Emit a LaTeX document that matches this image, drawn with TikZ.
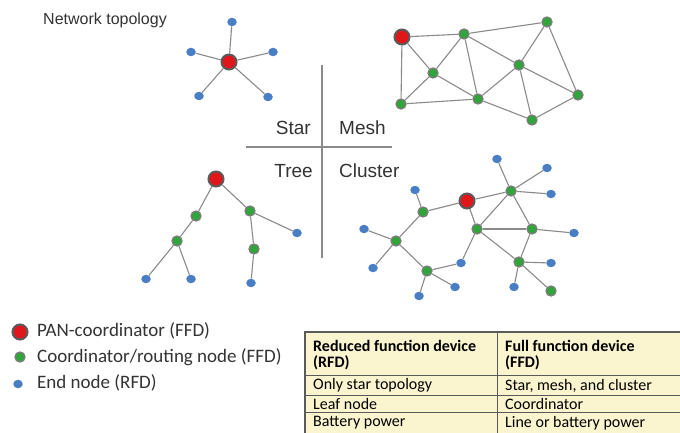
\documentclass[tikz,border=0pt]{standalone}
\usepackage{fontspec}
\usetikzlibrary{shapes.geometric}
\setmainfont{Liberation Sans}
\newfontfamily\legfont{Carlito}
\definecolor{edgegray}{HTML}{8A8A8A}
\definecolor{panred}{HTML}{E0161B}
\definecolor{ringgray}{HTML}{5A5A5A}
\definecolor{routegreen}{HTML}{2FA53A}
\definecolor{endblue}{HTML}{4A7EC4}
\definecolor{tabfill}{HTML}{FBF5CF}
\definecolor{txt}{HTML}{333333}
\begin{document}
\begin{tikzpicture}[x=1pt,y=-1pt,
  pan/.style={circle,fill=panred,draw=ringgray,line width=2pt,minimum size=15pt,inner sep=0pt},
  rout/.style={circle,fill=routegreen,draw=ringgray!80,line width=1.3pt,minimum size=10pt,inner sep=0pt},
  endn/.style={ellipse,fill=endblue,minimum width=9.5pt,minimum height=8.5pt,inner sep=0pt},
  lnk/.style={draw=edgegray,line width=1.1pt},
  lbl/.style={font=\fontsize{19}{21}\selectfont,text=txt,inner sep=0pt},
  leg/.style={font=\legfont\fontsize{19}{21}\selectfont,text=txt,anchor=west,inner sep=0pt},
  cell/.style={font=\legfont\fontsize{16}{16}\selectfont,text=black,anchor=west,inner sep=0pt,align=left},
  hcell/.style={cell,font=\legfont\bfseries\fontsize{16}{16}\selectfont}
]
\useasboundingbox (0,0) rectangle (680,433);
\fill[white] (0,0) rectangle (680,433);

\node[font=\fontsize{16}{18}\selectfont,text=txt,anchor=west,inner sep=0pt] (title) at (43,20) {Network topology};

% cross
\coordinate (vt) at (322,65);
\coordinate (vb) at (322,258);
\coordinate (hl) at (246,147);
\coordinate (hr) at (392,147);
\draw[edgegray,line width=1.2pt] (vt) -- (vb);
\draw[edgegray,line width=1.2pt] (hl) -- (hr);
\node[lbl,anchor=east] (lstar) at (311,128) {Star};
\node[lbl,anchor=west] (lmesh) at (339,128) {Mesh};
\node[lbl,anchor=east] (ltree) at (313,171) {Tree};
\node[lbl,anchor=west] (lclus) at (339,171) {Cluster};

% Star
\node[pan] (s0) at (229,62) {};
\node[endn] (s1) at (232,22) {};
\node[endn] (s2) at (191,52) {};
\node[endn] (s3) at (273,52) {};
\node[endn] (s4) at (199,96) {};
\node[endn] (s5) at (268,97) {};
\foreach \n in {s1,s2,s3,s4,s5} \draw[lnk] (s0) -- (\n);

% Mesh
\node[pan] (m0) at (402,37) {};
\node[rout] (mA) at (464,34) {};
\node[rout] (mB) at (547,22) {};
\node[rout] (mC) at (433,73) {};
\node[rout] (mD) at (519,65) {};
\node[rout] (mE) at (401,104) {};
\node[rout] (mF) at (478,99) {};
\node[rout] (mG) at (578,95) {};
\node[rout] (mH) at (532,120) {};
\foreach \a/\b in {m0/mA,mA/mB,m0/mC,m0/mE,mA/mC,mA/mF,mA/mD,mB/mD,mB/mG,mC/mE,mC/mF,mE/mF,mF/mD,mD/mG,mD/mH,mF/mH,mH/mG}
  \draw[lnk] (\a) -- (\b);

% Tree
\node[pan] (t0) at (216,179) {};
\node[rout] (t1) at (196,216) {};
\node[rout] (t2) at (177,241) {};
\node[endn] (t3) at (146,279) {};
\node[endn] (t4) at (191,279) {};
\node[rout] (t5) at (250,211) {};
\node[endn] (t6) at (297,233) {};
\node[rout] (t7) at (254,249) {};
\node[endn] (t8) at (251,283) {};
\foreach \a/\b in {t0/t1,t1/t2,t2/t3,t2/t4,t0/t5,t5/t6,t5/t7,t7/t8}
  \draw[lnk] (\a) -- (\b);

% Cluster
\node[pan] (c0) at (467,201) {};
\node[rout] (gA) at (511,191) {};
\node[endn] (bA1) at (497,159) {};
\node[endn] (bA2) at (547,168) {};
\node[endn] (bA3) at (551,194) {};
\node[rout] (gB) at (477,229) {};
\node[rout] (gC) at (532,229) {};
\node[endn] (bC) at (574,233) {};
\node[rout] (gD) at (519,262) {};
\node[endn] (bD1) at (551,263) {};
\node[endn] (bD2) at (514,287) {};
\node[rout] (gD2) at (551,291) {};
\node[endn] (bB) at (461,263) {};
\node[rout] (gE) at (423,212) {};
\node[endn] (bE) at (415,190) {};
\node[rout] (gF) at (396,241) {};
\node[endn] (bF1) at (364,229) {};
\node[endn] (bF2) at (373,268) {};
\node[rout] (gG) at (427,271) {};
\node[endn] (bG1) at (455,287) {};
\node[endn] (bG2) at (419,296) {};
\foreach \a/\b in {c0/gA,c0/gB,c0/gE,gA/bA1,gA/bA2,gA/bA3,gA/gB,gA/gC,gB/gC,gB/gD,gC/gD,gC/bC,gD/bD1,gD/bD2,gD/gD2,gB/bB,bB/gG,gE/bE,gE/gF,gF/bF1,gF/bF2,gF/gG,gG/bG1,gG/bG2}
  \draw[lnk] (\a) -- (\b);

% Legend
\node[pan] (lg1) at (20,332) {};
\node[rout] (lg2) at (20,357) {};
\node[endn] (lg3) at (18,384) {};
\node[leg] (lt1) at (37,331) {PAN-coordinator (FFD)};
\node[leg] (lt2) at (37,357) {Coordinator/routing node (FFD)};
\node[leg] (lt3) at (37,383) {End node (RFD)};

% Table
\fill[tabfill] (305,332) rectangle (681,434);
\draw[ringgray,line width=0.8pt] (305,375) -- (681,375);
\draw[ringgray,line width=0.8pt] (305,395) -- (681,395);
\draw[ringgray,line width=0.8pt] (305,412) -- (681,412);
\draw[ringgray,line width=0.8pt] (497,332) -- (497,434);
\draw[ringgray,line width=1.8pt] (305,434) -- (305,332) -- (681,332);
\node[hcell] (h1) at (313,355) {Reduced function device\\(RFD)};
\node[hcell] (h2) at (505,355) {Full function device\\(FFD)};
\node[cell] (r11) at (313,385.5) {Only star topology};
\node[cell] (r12) at (505,385.5) {Star, mesh, and cluster};
\node[cell] (r21) at (313,404) {Leaf node};
\node[cell] (r22) at (505,404) {Coordinator};
\node[cell] (r31) at (313,423) {Battery power};
\node[cell] (r32) at (505,423) {Line or battery power};
\end{tikzpicture}
\end{document}
